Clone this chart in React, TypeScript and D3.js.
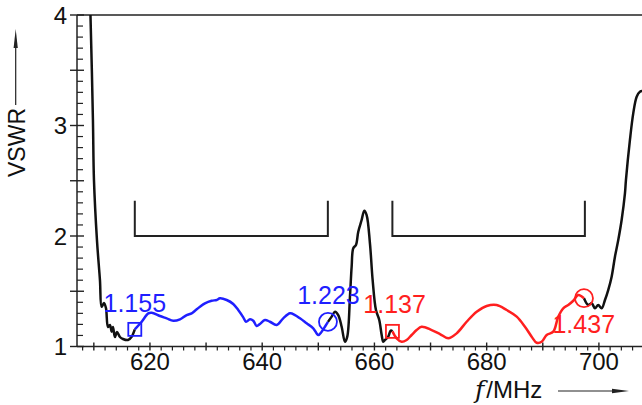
import React from "react";
import * as d3 from "d3";

// frequency (MHz), VSWR
const blackLeft: [number, number][] = [
  [609.2, 4.3], [609.4, 4.0], [609.84, 3.05], [610.02, 2.51], [610.56, 1.96], [611.09, 1.6],
  [611.39, 1.36], [611.8, 1.394], [612.16, 1.348], [612.52, 1.176], [612.87, 1.195],
  [613.18, 1.134], [613.41, 1.176], [613.76, 1.086], [614.12, 1.131], [614.65, 1.086],
  [615.19, 1.068], [616.08, 1.059], [616.74, 1.089], [617.3, 1.155],
];

const blueBand: [number, number][] = [
  [617.3, 1.155], [618.52, 1.224], [619.7, 1.3], [620.3, 1.306], [621.78, 1.276],
  [622.98, 1.255], [624.15, 1.233], [625.35, 1.246], [626.54, 1.285], [627.43, 1.3],
  [628.02, 1.324], [628.91, 1.36], [629.8, 1.391], [630.99, 1.414], [631.89, 1.421],
  [632.47, 1.436], [633.67, 1.421], [634.84, 1.385], [635.73, 1.33], [636.63, 1.264],
  [637.11, 1.224], [637.82, 1.246], [638.41, 1.233], [639.01, 1.186], [639.6, 1.204],
  [640.49, 1.24], [641.38, 1.224], [642.58, 1.195], [643.75, 1.255], [644.95, 1.3],
  [645.84, 1.285], [646.73, 1.255], [647.92, 1.21], [649.1, 1.165], [649.99, 1.104],
  [650.6, 1.134], [651.18, 1.179], [651.72, 1.223],
];

const blackMid: [number, number][] = [
  [651.72, 1.223], [652.38, 1.27], [652.97, 1.315], [653.55, 1.285], [654.16, 1.179],
  [654.75, 1.043], [655.16, 1.089], [655.64, 1.451], [655.94, 1.722], [656.23, 1.889],
  [656.71, 1.919], [657.12, 2.039], [657.72, 2.145], [658.19, 2.229], [658.61, 2.19],
  [659.2, 1.934], [659.68, 1.602], [660.27, 1.33], [660.86, 1.24], [661.29, 1.104],
  [661.57, 1.043], [661.88, 1.059], [662.46, 1.089], [662.89, 1.143], [663.21, 1.137],
];

const redBand: [number, number][] = [
  [663.21, 1.137], [663.96, 1.074], [664.85, 1.043], [665.74, 1.059], [666.63, 1.104],
  [667.52, 1.149], [668.41, 1.179], [670.2, 1.149], [671.68, 1.113], [673.15, 1.074],
  [674.65, 1.119], [676.43, 1.224], [678.22, 1.315], [680.0, 1.367], [681.78, 1.376],
  [683.56, 1.33], [685.35, 1.27], [686.82, 1.179], [688.02, 1.089], [688.91, 1.034],
  [689.8, 1.043], [690.69, 1.104], [691.87, 1.134], [692.76, 1.27], [693.65, 1.346],
  [694.54, 1.376], [695.43, 1.414], [696.32, 1.466], [697.34, 1.437],
];

const blackRight: [number, number][] = [
  [697.34, 1.437], [698.1, 1.376], [698.71, 1.391], [699.3, 1.346], [699.88, 1.376],
  [700.49, 1.346], [701.08, 1.421], [701.66, 1.511], [702.27, 1.632], [702.86, 1.813],
  [703.45, 1.964], [704.05, 2.145], [704.64, 2.386], [704.82, 2.507], [705.53, 2.869],
  [706.12, 3.11], [706.73, 3.261], [707.31, 3.306], [707.8, 3.312],
];

const bands = [
  [617.3, 651.7],
  [663.2, 697.5],
];

// markers: frequency, VSWR, label, shape, colour, label position
const markers = [
  { f: 617.3, v: 1.155, text: "1.155", shape: "square", color: "#1f1fff", lf: 617.3, lv: 1.31 },
  { f: 651.72, v: 1.223, text: "1.223", shape: "circle", color: "#1f1fff", lf: 651.8, lv: 1.385 },
  { f: 663.21, v: 1.137, text: "1.137", shape: "square", color: "#ff1f1f", lf: 663.6, lv: 1.305 },
  { f: 697.34, v: 1.437, text: "1.437", shape: "circle", color: "#ff1f1f", lf: 697.3, lv: 1.123 },
];

const yLabels = [1, 2, 3, 4];
const xLabels = [620, 640, 660, 680, 700];

const W = 642;
const H = 405;
const sans = "'Liberation Sans', Arial, Helvetica, sans-serif";

export default function App() {
  const x = d3.scaleLinear().domain([607, 708]).range([77, 643.8]);
  const y = d3.scaleLinear().domain([1, 4]).range([346.5, 15]);

  const line = d3
    .line<[number, number]>()
    .x((d) => x(d[0]))
    .y((d) => y(d[1]))
    .curve(d3.curveCatmullRom.alpha(0.5));

  const minorX = d3.range(608, 709, 2).filter((d) => d % 10 !== 0);
  const majorX = d3.range(610, 709, 10);
  const minorY = d3.range(11, 40).map((d) => d / 10).filter((d) => (d * 10) % 5 !== 0);
  const majorY = d3.range(2, 9).map((d) => d / 2);

  const x0 = x(607);
  const yBase = y(1);

  return (
    <div style={{ position: "absolute", left: 0, top: 0 }}>
      <svg width={W} height={H} style={{ display: "block", background: "#fff" }}>
        <defs>
          <clipPath id="plot">
            <rect x={x0} y={y(4)} width={W - x0} height={yBase - y(4) + 5} />
          </clipPath>
        </defs>

        {/* axes */}
        <line x1={x0} x2={W} y1={y(4)} y2={y(4)} stroke="#222" strokeWidth={1.5} />
        <line x1={x0} x2={x0} y1={y(4)} y2={yBase} stroke="#222" strokeWidth={1.5} />
        <line x1={x0} x2={W} y1={yBase} y2={yBase} stroke="#222" strokeWidth={1.5} />

        {minorX.map((d) => (
          <line key={"mx" + d} x1={x(d)} x2={x(d)} y1={yBase} y2={yBase + 4} stroke="#222" strokeWidth={1.2} />
        ))}
        {majorX.map((d) => (
          <line key={"Mx" + d} x1={x(d)} x2={x(d)} y1={yBase - 4} y2={yBase + 4} stroke="#222" strokeWidth={1.4} />
        ))}
        {minorY.map((d) => (
          <line key={"my" + d} x1={x0} x2={x0 + 6} y1={y(d)} y2={y(d)} stroke="#222" strokeWidth={1.2} />
        ))}
        {majorY.map((d) => (
          <line key={"My" + d} x1={x0 - 7} x2={x0 + 7} y1={y(d)} y2={y(d)} stroke="#222" strokeWidth={1.4} />
        ))}

        {yLabels.map((d) => (
          <text key={"yl" + d} x={67} y={y(d)} dy="0.37em" textAnchor="end" fontFamily={sans} fontSize={24} fill="#111">
            {d}
          </text>
        ))}
        {xLabels.map((d) => (
          <text key={"xl" + d} x={x(d)} y={370} textAnchor="middle" fontFamily={sans} fontSize={24} fill="#111">
            {d}
          </text>
        ))}

        {/* axis titles */}
        <text
          transform={`translate(25,142.5) rotate(-90)`}
          textAnchor="middle"
          fontFamily={sans}
          fontSize={23}
          fill="#111"
        >
          VSWR
        </text>
        <line x1={15.7} x2={15.7} y1={105} y2={44} stroke="#222" strokeWidth={1.2} />
        <path d="M13.6,48 L15.7,29 L17.8,48 Z" fill="#222" />

        <text x={475} y={398} fontFamily={sans} fontSize={24} fill="#111">
          <tspan fontFamily="'DejaVu Serif', 'Liberation Serif', serif" fontStyle="italic" fontSize={25}>
            f
          </tspan>
          <tspan dx={2}>/MHz</tspan>
        </text>
        <line x1={558} x2={615} y1={391} y2={391} stroke="#222" strokeWidth={1.2} />
        <path d="M612,388.8 L629,391 L612,393.2 Z" fill="#222" />

        {/* band brackets */}
        {bands.map((b, i) => (
          <path
            key={"b" + i}
            d={`M${x(b[0])},${y(2.32)} V${y(2)} H${x(b[1])} V${y(2.32)}`}
            fill="none"
            stroke="#222"
            strokeWidth={2}
          />
        ))}

        {/* curves */}
        <g clipPath="url(#plot)" fill="none" strokeWidth={2.5} strokeLinejoin="round">
          <path d={line(blackLeft) ?? ""} stroke="#111" />
          <path d={line(blackMid) ?? ""} stroke="#111" />
          <path d={line(blackRight) ?? ""} stroke="#111" />
          <path d={line(blueBand) ?? ""} stroke="#1f1fff" />
          <path d={line(redBand) ?? ""} stroke="#ff1f1f" />
        </g>

        {/* markers */}
        {markers.map((m) => (
          <g key={m.text}>
            {m.shape === "square" ? (
              <rect x={x(m.f) - 6.5} y={y(m.v) - 6.5} width={13} height={13} fill="none" stroke={m.color} strokeWidth={1.8} />
            ) : (
              <circle cx={x(m.f)} cy={y(m.v)} r={9} fill="none" stroke={m.color} strokeWidth={1.8} />
            )}
            <text x={x(m.lf)} y={y(m.lv)} textAnchor="middle" fontFamily={sans} fontSize={25} fill={m.color}>
              {m.text}
            </text>
          </g>
        ))}
      </svg>
    </div>
  );
}
